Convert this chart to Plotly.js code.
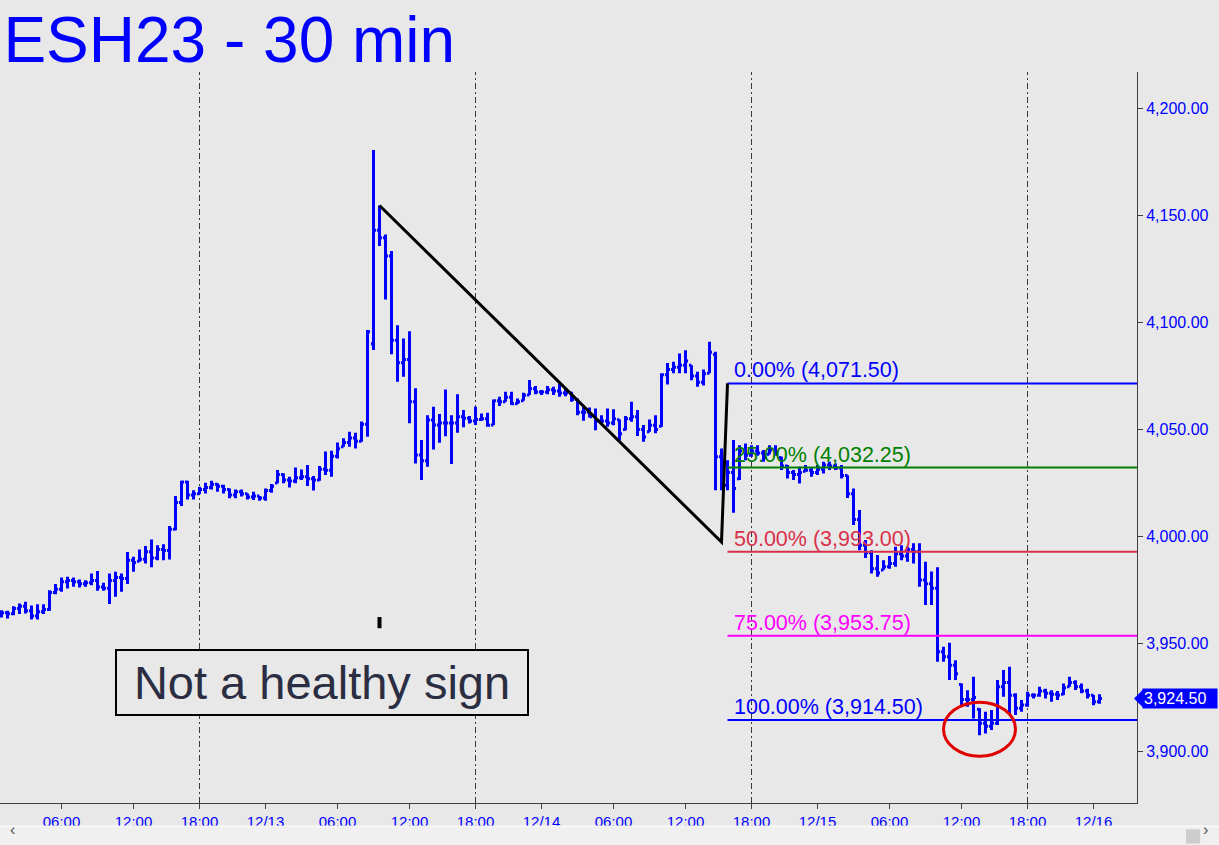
<!DOCTYPE html>
<html>
<head>
<meta charset="utf-8">
<script src="https://cdn.plot.ly/plotly-3.0.1.min.js"></script>
<style>
  html, body { margin: 0; padding: 0; background: #e8e8e8; }
  #chart { width: 1219px; height: 845px; }
</style>
</head>
<body>
<div id="chart"></div>
<script>
// ---- OHLC data, 30-minute bars of ESH23 ----
const opens = [
  3963.0,3964.5,3964.0,3966.5,3967.5,3965.5,3963.0,3965.0,3966.0,3974.0,
  3975.5,3979.0,3979.5,3979.0,3978.0,3978.5,3979.5,3976.5,3976.0,3979.5,
  3981.0,3980.5,3989.0,3988.5,3989.5,3993.0,3990.0,3994.0,3993.5,4003.5,
  4016.0,4025.5,4019.5,4020.0,4022.0,4023.0,4024.5,4023.5,4022.0,4019.5,
  4021.0,4020.0,4018.5,4019.0,4018.0,4021.5,4025.0,4029.0,4026.5,4026.0,
  4027.5,4028.0,4027.0,4026.5,4031.5,4031.0,4037.5,4042.0,4044.0,4046.0,
  4044.5,4052.5,4090.0,4143.0,4139.5,4131.0,4091.7,4081.2,4082.7,4063.0,
  4038.1,4035.4,4054.4,4052.1,4053.0,4053.0,4053.0,4056.0,4055.2,4054.0,
  4054.7,4055.0,4052.1,4063.4,4063.0,4065.0,4062.0,4063.4,4066.1,4069.0,
  4067.5,4067.5,4068.5,4068.0,4067.0,4067.0,4064.0,4058.0,4058.0,4056.0,
  4054.0,4054.0,4053.0,4054.5,4050.0,4055.0,4056.0,4050.0,4049.0,4052.0,
  4051.5,4075.5,4078.0,4079.0,4080.0,4080.0,4075.0,4072.0,4076.2,4085.0,
  4037.3,4024.0,4030.0,4027.0,4040.0,4038.0,4040.0,4039.0,4038.5,4040.5,
  4037.0,4033.0,4030.0,4029.0,4030.5,4031.0,4030.0,4031.5,4033.5,4033.0,
  4032.0,4028.5,4020.0,4008.0,3996.0,3992.5,3985.0,3984.5,3986.0,3987.5,
  3992.0,3991.0,3994.0,3993.0,3979.8,3978.0,3976.0,3946.3,3944.0,3940.0,
  3931.0,3924.0,3924.0,3919.5,3913.0,3911.5,3913.0,3930.0,3932.0,3926.0,
  3920.0,3921.5,3926.0,3926.0,3928.0,3927.0,3926.5,3926.5,3930.0,3932.0,
  3930.0,3928.0,3926.0,3923.0
];
const highs = [
  3965.7,3965.5,3967.6,3968.8,3969.6,3967.9,3968.5,3968.5,3975.0,3977.9,
  3981.0,3981.3,3981.0,3980.0,3979.7,3982.8,3984.0,3978.5,3982.8,3983.6,
  3982.8,3992.8,3990.6,3994.0,3995.6,3998.7,3996.0,3996.5,4005.0,4019.0,
  4026.1,4026.1,4021.7,4023.3,4025.2,4026.1,4024.9,4024.2,4022.5,4022.0,
  4022.0,4020.2,4021.0,4019.0,4022.5,4024.6,4031.1,4029.5,4028.0,4032.3,
  4031.4,4033.4,4028.3,4033.0,4039.7,4040.1,4043.9,4045.9,4049.0,4048.5,
  4053.7,4096.4,4180.4,4154.5,4141.0,4133.3,4098.7,4092.5,4095.9,4069.2,
  4045.1,4056.7,4060.6,4057.2,4068.7,4056.7,4066.4,4059.1,4056.3,4060.6,
  4057.5,4057.8,4064.0,4065.3,4067.6,4067.6,4064.5,4067.2,4073.1,4070.3,
  4068.4,4070.3,4070.0,4071.5,4069.5,4067.6,4064.5,4060.6,4060.3,4059.8,
  4056.7,4059.8,4059.4,4054.7,4056.3,4063.0,4059.1,4052.1,4054.7,4056.7,
  4076.2,4081.0,4081.6,4085.5,4087.0,4080.0,4077.0,4078.0,4091.0,4086.3,
  4041.2,4035.7,4045.1,4042.7,4043.5,4042.7,4042.7,4040.4,4042.7,4042.7,
  4037.3,4033.4,4031.1,4032.6,4033.4,4032.3,4033.4,4035.0,4035.0,4034.2,
  4033.4,4028.7,4022.5,4012.4,3998.4,3993.7,3991.4,3989.0,3991.0,3995.3,
  3996.0,3995.3,3996.9,3996.9,3988.3,3983.7,3985.7,3948.7,3950.5,3942.4,
  3931.5,3928.4,3934.7,3919.9,3918.3,3919.1,3933.1,3937.8,3939.3,3926.9,
  3923.8,3927.6,3926.9,3930.0,3929.0,3928.4,3928.0,3931.5,3934.7,3933.0,
  3931.5,3929.0,3926.1,3926.5
];
const lows = [
  3962.3,3961.8,3963.4,3963.9,3964.2,3961.4,3961.4,3963.9,3965.4,3973.2,
  3974.3,3975.8,3976.6,3976.3,3976.6,3977.4,3974.8,3974.8,3968.6,3972.0,
  3974.3,3977.9,3983.6,3988.3,3987.5,3985.7,3989.0,3989.0,3989.4,4003.0,
  4014.3,4017.4,4017.4,4019.9,4020.2,4022.0,4021.0,4020.2,4017.9,4017.9,
  4018.7,4017.4,4017.1,4016.8,4016.8,4020.5,4024.9,4024.9,4023.0,4024.9,
  4026.4,4023.6,4021.5,4026.1,4028.8,4028.0,4036.5,4042.0,4042.0,4041.2,
  4044.3,4046.6,4087.1,4135.6,4110.7,4085.1,4072.3,4074.6,4052.9,4034.2,
  4026.4,4032.6,4040.7,4043.8,4046.9,4033.9,4048.5,4051.0,4052.8,4052.1,
  4054.1,4051.3,4052.1,4061.0,4063.0,4061.4,4061.9,4063.4,4066.1,4066.5,
  4066.1,4066.5,4066.1,4065.3,4065.5,4063.0,4056.7,4054.1,4055.6,4049.7,
  4052.5,4051.3,4052.0,4044.8,4049.7,4053.6,4047.0,4044.3,4049.0,4048.2,
  4051.3,4071.0,4076.2,4076.2,4076.2,4073.0,4070.0,4070.5,4076.2,4021.7,
  4021.7,4021.7,4011.2,4026.4,4035.7,4037.3,4037.8,4035.0,4038.5,4037.8,
  4031.1,4027.2,4026.4,4024.8,4030.3,4028.0,4028.8,4029.5,4031.1,4031.1,
  4027.2,4018.0,4005.4,3993.7,3990.0,3982.8,3981.3,3984.4,3985.0,3986.0,
  3989.0,3988.3,3987.5,3976.7,3968.1,3968.1,3941.7,3941.7,3933.1,3933.1,
  3920.7,3920.7,3915.2,3907.4,3908.2,3909.8,3912.1,3925.3,3916.8,3916.8,
  3918.3,3920.7,3924.5,3925.3,3924.5,3923.0,3923.8,3926.1,3930.0,3928.5,
  3926.9,3924.5,3921.4,3922.0
];
const closes = [
  3964.5,3964.0,3966.5,3967.5,3965.5,3963.0,3965.0,3966.0,3974.0,3975.5,
  3979.0,3979.5,3979.0,3978.0,3978.5,3979.5,3976.5,3976.0,3979.5,3981.0,
  3980.5,3989.0,3988.0,3989.5,3993.0,3990.0,3994.0,3993.5,4003.5,4016.0,
  4025.5,4019.5,4020.0,4022.0,4023.0,4024.5,4023.5,4022.0,4019.5,4021.0,
  4020.0,4018.5,4019.0,4018.0,4021.5,4023.5,4029.0,4026.5,4026.0,4027.5,
  4028.0,4027.0,4026.5,4031.5,4031.0,4037.5,4041.0,4044.0,4046.0,4044.5,
  4052.5,4095.6,4143.0,4139.5,4130.9,4091.7,4081.2,4082.7,4063.0,4038.1,
  4035.4,4054.4,4052.1,4053.0,4053.0,4053.0,4056.0,4055.2,4054.0,4054.7,
  4055.0,4052.0,4063.4,4063.0,4065.0,4062.0,4063.0,4066.0,4069.0,4067.5,
  4067.5,4068.5,4068.0,4067.0,4067.0,4064.0,4058.0,4058.0,4056.0,4054.0,
  4054.0,4053.0,4055.0,4048.0,4055.0,4056.0,4050.0,4046.5,4052.0,4050.0,
  4075.5,4078.0,4079.0,4080.0,4082.0,4075.0,4072.0,4076.0,4086.0,4037.3,
  4024.0,4030.0,4022.5,4040.0,4038.0,4040.0,4039.0,4037.0,4040.5,4039.0,
  4033.0,4030.0,4029.0,4030.0,4031.0,4030.0,4031.5,4033.5,4033.0,4032.0,
  4028.5,4020.0,4008.0,3996.0,3992.5,3985.0,3983.0,3986.0,3987.5,3992.0,
  3991.0,3994.0,3993.0,3979.8,3978.0,3976.0,3946.3,3944.0,3940.0,3936.0,
  3924.0,3924.0,3925.0,3913.0,3911.5,3913.0,3930.0,3932.0,3926.0,3920.0,
  3921.5,3926.0,3926.0,3928.0,3927.0,3926.5,3926.0,3929.5,3932.0,3930.0,
  3928.0,3926.0,3923.0,3924.5
];

// ---- time axis (bar end times, ET; no bars 17:00-18:00) ----
function buildBarTimes(n) {
  const out = [];
  let d = new Date(Date.UTC(2022, 11, 12, 1, 0));
  while (out.length < n) {
    const h = d.getUTCHours(), m = d.getUTCMinutes();
    if (!((h === 17 && m === 30) || (h === 18 && m === 0))) {
      const mm = String(d.getUTCMonth() + 1).padStart(2, '0');
      const dd = String(d.getUTCDate()).padStart(2, '0');
      out.push(mm + '/' + dd + ' ' + String(h).padStart(2, '0') + ':' + String(m).padStart(2, '0'));
    }
    d = new Date(d.getTime() + 30 * 60000);
  }
  return out;
}
const barTimes = buildBarTimes(closes.length);

const tickBars = ['12/12 06:00','12/12 12:00','12/12 18:30','12/13 00:00',
                  '12/13 06:00','12/13 12:00','12/13 18:30','12/14 00:00',
                  '12/14 06:00','12/14 12:00','12/14 18:30','12/15 00:00',
                  '12/15 06:00','12/15 12:00','12/15 18:30','12/16 00:00'];
const tickLabels = ['06:00','12:00','18:00','12/13','06:00','12:00','18:00','12/14',
                    '06:00','12:00','18:00','12/15','06:00','12:00','18:00','12/16'];
const sessionOpens = ['12/12 18:30','12/13 18:30','12/14 18:30','12/15 18:30'];

// ---- drawing: A-B-C pattern and retracement levels ----
const patternBars = ['12/13 09:30', '12/14 15:00', '12/14 15:30'];
const patternPrices = [4154.5, 3997.5, 4071.5];
const fibPct = ['0.00%', '25.00%', '50.00%', '75.00%', '100.00%'];
const fibLevels = [4071.50, 4032.25, 3993.00, 3953.75, 3914.50];
const fibColors = ['#0000ff', '#008000', '#d8304a', '#ff00ff', '#0000ff'];
const circleBars = ['12/15 10:30', '12/15 16:30'];
const circlePrices = [3897.6, 3922.8];
const markerBar = '12/13 09:30';
const markerPrices = [3957.3, 3962.5];
const lastPrice = 3924.50;
const noteText = 'Not a healthy sign';

const fmt = v => v.toLocaleString('en-US', {minimumFractionDigits: 2, maximumFractionDigits: 2});

const BLUE = '#0000ff';
const XMAX = 189.25;
const trace = {
  type: 'ohlc',
  x: barTimes, open: opens, high: highs, low: lows, close: closes,
  increasing: {line: {color: BLUE, width: 3}},
  decreasing: {line: {color: BLUE, width: 3}},
  tickwidth: 0.42,
  hoverinfo: 'skip',
  showlegend: false
};

const shapes = [];
sessionOpens.forEach(t => shapes.push({
  type: 'line', xref: 'x', yref: 'paper', x0: t, x1: t, y0: 0, y1: 1,
  line: {color: '#3a3a3a', width: 1, dash: '6px,3px,2px,3px'}, layer: 'below'
}));
// retracement lines, from point C to the right edge
fibLevels.forEach((v, k) => shapes.push({
  type: 'line', xref: 'x', yref: 'y', x0: patternBars[2], y0: v, x1: XMAX, y1: v,
  line: {color: fibColors[k], width: 2}
}));
// pattern line A-B-C
shapes.push({
  type: 'path', xref: 'x', yref: 'y',
  path: 'M ' + barTimes.indexOf(patternBars[0]) + ',' + patternPrices[0] +
        ' L ' + barTimes.indexOf(patternBars[1]) + ',' + patternPrices[1] +
        ' L ' + barTimes.indexOf(patternBars[2]) + ',' + patternPrices[2],
  line: {color: '#000000', width: 3}
});
// red circle
shapes.push({
  type: 'circle', xref: 'x', yref: 'y',
  x0: circleBars[0], x1: circleBars[1], y0: circlePrices[0], y1: circlePrices[1],
  line: {color: '#e00000', width: 3}
});
// small black marker
shapes.push({
  type: 'line', xref: 'x', yref: 'y', x0: markerBar, x1: markerBar,
  y0: markerPrices[0], y1: markerPrices[1], line: {color: '#000000', width: 4}
});
// last price arrow
shapes.push({
  type: 'path', xref: 'paper', yref: 'y', xsizemode: 'pixel', ysizemode: 'pixel',
  xanchor: 1, yanchor: lastPrice,
  path: 'M -3,0 L 6,9 L 6,-9 Z', fillcolor: BLUE, line: {width: 0}
});
// scrollbar
shapes.push({type: 'rect', xref: 'paper', yref: 'paper', x0: -0.01, x1: 1.08,
  y0: -0.0316, y1: -0.07, fillcolor: '#f0f0f0', line: {width: 0}});
shapes.push({type: 'line', xref: 'paper', yref: 'paper', x0: -0.01, x1: 1.08,
  y0: -0.0316, y1: -0.0316, line: {color: '#ffffff', width: 1}});
shapes.push({type: 'rect', xref: 'paper', yref: 'paper', x0: 1.0431, x1: 1.0555,
  y0: -0.036, y1: -0.0555, fillcolor: '#cdcdcd', line: {width: 0}});

const annotations = [];
fibLevels.forEach((v, k) => annotations.push({
  xref: 'x', yref: 'y', x: patternBars[2], y: v, xanchor: 'left', yanchor: 'bottom',
  xshift: 4, yshift: -1, showarrow: false,
  text: fibPct[k] + ' (' + fmt(v) + ')',
  font: {family: 'Liberation Sans, Arial, sans-serif', size: 21.5, color: fibColors[k]}
}));
annotations.push({
  xref: 'paper', yref: 'paper', x: 0.2836, y: 0.1655, xanchor: 'center', yanchor: 'middle',
  showarrow: false,
  text: noteText, width: 410, height: 63, bgcolor: '#e8e8e8',
  bordercolor: '#000000', borderwidth: 2, borderpad: 0,
  font: {family: 'Liberation Sans, Arial, sans-serif', size: 47, color: '#2b2e42'}
});
annotations.push({
  xref: 'paper', yref: 'y', x: 1, y: lastPrice, xanchor: 'left', xshift: 5,
  showarrow: false, text: fmt(lastPrice), bgcolor: BLUE, borderpad: 1,
  width: 72, align: 'left',
  font: {family: 'Liberation Sans, Arial, sans-serif', size: 16, color: '#ffffff'}
});
annotations.push({xref: 'paper', yref: 'paper', x: 0.007, y: -0.05, showarrow: false,
  text: '‹', font: {size: 16, color: '#555555'}});
annotations.push({xref: 'paper', yref: 'paper', x: 1.064, y: -0.05, showarrow: false,
  text: '›', font: {size: 16, color: '#555555'}});

const layout = {
  width: 1219, height: 845,
  paper_bgcolor: '#e8e8e8', plot_bgcolor: '#e8e8e8',
  margin: {l: 0, r: 82, t: 72, b: 42},
  font: {family: 'Liberation Sans, Arial, sans-serif'},
  title: {
    text: 'ESH23 - 30 min', x: 0.003, xanchor: 'left', xref: 'paper',
    yref: 'container', y: 0.98, yanchor: 'top',
    font: {family: 'Liberation Sans, Arial, sans-serif', size: 64, color: BLUE}
  },
  xaxis: {
    type: 'category', range: [-0.25, XMAX],
    tickmode: 'array', tickvals: tickBars, ticktext: tickLabels,
    showgrid: false, zeroline: false, showline: true, linecolor: '#404040', linewidth: 1,
    ticks: 'outside', ticklen: 5, tickcolor: '#404040',
    tickfont: {size: 15, color: BLUE},
    rangeslider: {visible: false}, fixedrange: true
  },
  yaxis: {
    side: 'right', range: [3875.75, 4216.8],
    tick0: 4000, dtick: 50, tickformat: ',.2f',
    showgrid: false, zeroline: false, showline: true, linecolor: '#404040', linewidth: 1,
    ticks: 'outside', ticklen: 5, tickcolor: '#404040',
    tickfont: {size: 16, color: BLUE}, fixedrange: true
  },
  shapes: shapes,
  annotations: annotations,
  showlegend: false
};

Plotly.newPlot('chart', [trace], layout, {displayModeBar: false, staticPlot: true});
</script>
</body>
</html>
